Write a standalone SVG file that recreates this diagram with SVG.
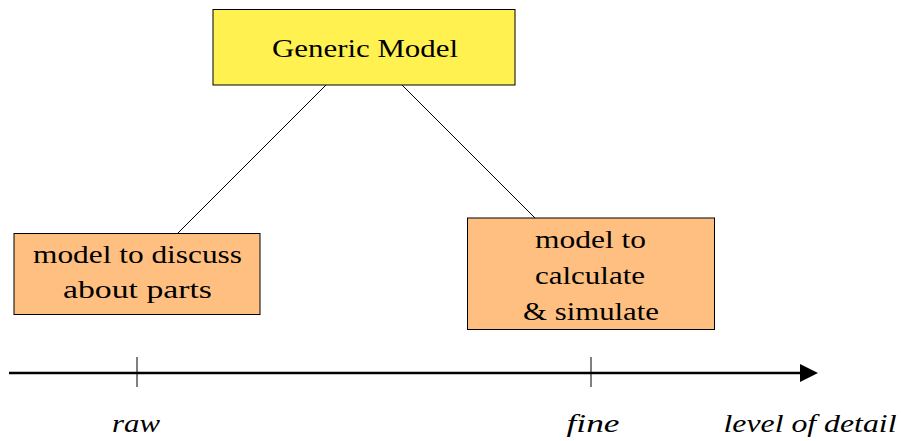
<svg xmlns="http://www.w3.org/2000/svg" width="901" height="441" viewBox="0 0 901 441">
<style>
.box{stroke:#000;stroke-width:1}
.t{font-family:'Liberation Serif','DejaVu Serif',serif;font-size:25px;fill:#000;text-anchor:middle}
.i{font-style:italic}
.c{stroke:#000;stroke-width:1;fill:none}
</style>
<defs>
<marker id="ah" markerWidth="10" markerHeight="10" refX="0" refY="5" orient="auto" markerUnits="userSpaceOnUse" viewBox="0 0 10 10" overflow="visible">
<path d="M0,-4 L18,5 L0,14 Z" fill="#000"/>
</marker>
</defs>
<rect width="901" height="441" fill="#fff"/>
<g id="connectors">
<line class="c" x1="326" y1="85" x2="178" y2="233"/>
<line class="c" x1="402" y1="85" x2="535" y2="218"/>
<line x1="9" y1="373" x2="800" y2="373" stroke="#000" stroke-width="2.4" marker-end="url(#ah)"/>
<line class="c" x1="137" y1="357" x2="137" y2="387"/>
<line class="c" x1="591" y1="357" x2="591" y2="387"/>
</g>
<g id="generic">
<rect class="box" x="213" y="9.5" width="302" height="75.5" fill="#fff250"/>
<text class="t" x="365" y="57" textLength="186" lengthAdjust="spacingAndGlyphs">Generic Model</text>
</g>
<g id="discuss">
<rect class="box" x="14" y="233.5" width="246" height="81" fill="#ffbf80"/>
<text class="t" x="137.5" y="263" textLength="209" lengthAdjust="spacingAndGlyphs">model to discuss</text>
<text class="t" x="137.5" y="298" textLength="149" lengthAdjust="spacingAndGlyphs">about parts</text>
</g>
<g id="calculate">
<rect class="box" x="467.5" y="218" width="247" height="111.5" fill="#ffbf80"/>
<text class="t" x="590.5" y="248" textLength="111" lengthAdjust="spacingAndGlyphs">model to</text>
<text class="t" x="590" y="284" textLength="110" lengthAdjust="spacingAndGlyphs">calculate</text>
<text class="t" x="591" y="320" textLength="136" lengthAdjust="spacingAndGlyphs">&amp; simulate</text>
</g>
<g id="labels">
<text class="t i" x="136" y="432" textLength="48" lengthAdjust="spacingAndGlyphs">raw</text>
<text class="t i" x="593" y="432" textLength="53" lengthAdjust="spacingAndGlyphs">fine</text>
<text class="t i" x="810" y="432" textLength="173" lengthAdjust="spacingAndGlyphs">level of detail</text>
</g>
</svg>
